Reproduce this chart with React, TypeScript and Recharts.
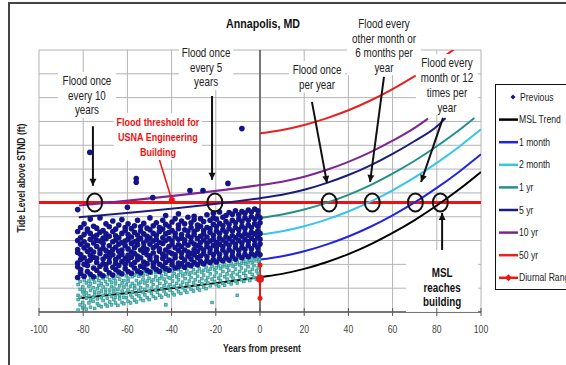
import React from 'react';
import { ComposedChart, Line, Scatter, XAxis, YAxis, CartesianGrid, ReferenceLine, ReferenceDot } from 'recharts';

type Pt = [number, number];

// ---------- data ----------
const xTicks = [-100, -80, -60, -40, -20, 0, 20, 40, 60, 80, 100];
const yTicks = [4, 5, 6, 7, 8, 9, 10, 11, 12, 13, 14, 15];
const floodThreshold = 8.6;

const mslTrend: Pt[] = [[-82, 4.58], [0, 5.46], [10, 5.6], [20, 5.81], [30, 6.09], [40, 6.43], [50, 6.84], [60, 7.32], [70, 7.86], [80, 8.47], [90, 9.14], [100, 9.88]];
const oneMonth: Pt[] = [[0, 6.2], [10, 6.34], [20, 6.55], [30, 6.83], [40, 7.17], [50, 7.58], [60, 8.06], [70, 8.6], [80, 9.21], [90, 9.88], [100, 10.62]];
const twoMonth: Pt[] = [[0, 7.25], [10, 7.39], [20, 7.6], [30, 7.88], [40, 8.22], [50, 8.63], [60, 9.11], [70, 9.65], [80, 10.26], [90, 10.93], [100, 11.67]];
const oneYr: Pt[] = [[0, 7.95], [10, 8.09], [20, 8.3], [30, 8.58], [40, 8.92], [50, 9.33], [60, 9.81], [70, 10.35], [80, 10.96], [90, 11.63], [97, 12.15]];
const fiveYr: Pt[] = [[-82, 7.98], [0, 8.78], [10, 8.92], [20, 9.13], [30, 9.41], [40, 9.75], [50, 10.16], [60, 10.64], [70, 11.18], [80, 11.79], [84, 12.14]];
const tenYr: Pt[] = [[-82, 8.47], [0, 9.33], [10, 9.47], [20, 9.68], [30, 9.96], [40, 10.3], [50, 10.71], [60, 11.19], [70, 11.73], [76, 12.12]];
const fiftyYr: Pt[] = [[0, 11.5], [10, 11.64], [20, 11.85], [30, 12.13], [40, 12.47], [50, 12.88], [60, 13.36], [70, 13.9], [80, 14.51], [90, 15.18]];
const diurnalRange: Pt[] = [[0, 4.58], [0, 5.4], [0, 5.97]];

// observed high tides (navy, "Previous"), grouped by time column
const previousCols: [number, number[]][] = [
  [-82.5, [5.45, 5.9, 6.05, 6.5, 6.62, 7.0, 7.38, 8.3]], [-81.2, [5.62, 5.78, 6.2, 6.41, 6.85, 7.12, 7.55]],
  [-79.6, [5.5, 6.0, 6.28, 6.7, 6.95, 7.25, 7.7]], [-78.1, [5.7, 5.95, 6.12, 6.55, 6.8, 7.4, 7.48]], [-77, [10.7]],
  [-76.8, [5.58, 6.18, 6.38, 6.62, 7.05, 7.3, 7.9]], [-75.3, [5.48, 5.85, 6.3, 6.52, 6.9, 7.15, 7.6]],
  [-73.9, [5.75, 6.08, 6.25, 6.75, 7.0, 7.22, 7.52]], [-72.4, [5.6, 5.92, 6.45, 6.6, 6.98, 7.35, 7.95]],
  [-71.0, [5.52, 6.02, 6.22, 6.68, 6.88, 7.1, 7.42]], [-69.7, [5.8, 5.98, 6.35, 6.58, 7.08, 7.28, 7.7]],
  [-68.2, [5.65, 6.1, 6.28, 6.5, 6.78, 7.18, 7.58]], [-66.6, [5.55, 5.88, 6.4, 6.62, 6.95, 7.38, 7.82]],
  [-65.3, [5.78, 6.05, 6.2, 6.72, 7.02, 7.2, 7.48]], [-63.9, [5.68, 5.95, 6.32, 6.55, 6.85, 7.12, 7.65]],
  [-62.5, [5.6, 6.12, 6.42, 6.6, 6.92, 7.3, 7.88]], [-61.0, [5.82, 6.0, 6.25, 6.78, 6.98, 7.42, 7.55]], [-60, [8.4]],
  [-59.7, [5.7, 6.15, 6.38, 6.65, 7.05, 7.25, 7.7]], [-58.2, [5.62, 5.98, 6.3, 6.52, 6.88, 7.15, 7.5]],
  [-56.8, [5.85, 6.08, 6.45, 6.7, 6.95, 7.35, 7.62]], [-56, [9.45, 9.6]],
  [-55.4, [5.72, 6.2, 6.35, 6.82, 7.0, 7.22, 7.85]], [-54.0, [5.65, 5.92, 6.28, 6.6, 7.08, 7.4, 7.58]],
  [-52.6, [5.88, 6.1, 6.5, 6.72, 6.9, 7.28, 7.72]], [-51.1, [5.75, 6.02, 6.4, 6.62, 7.02, 7.18, 7.52]],
  [-49.8, [5.68, 6.22, 6.35, 6.85, 7.1, 7.45, 7.95]], [-48.5, [8.8]],
  [-48.3, [5.9, 6.05, 6.48, 6.7, 6.98, 7.3, 7.62]], [-46.9, [5.78, 6.15, 6.3, 6.78, 7.05, 7.22, 7.75]],
  [-45.5, [5.7, 6.0, 6.55, 6.65, 6.92, 7.38, 7.55]], [-44.0, [5.92, 6.25, 6.42, 6.88, 7.12, 7.48, 7.85]],
  [-42.7, [5.82, 6.08, 6.35, 6.6, 7.0, 7.28, 7.68, 8.05]], [-41.2, [5.75, 6.18, 6.52, 6.75, 7.08, 7.35, 7.6]],
  [-39.8, [5.98, 6.12, 6.45, 6.85, 6.98, 7.42, 7.78]], [-38.4, [5.85, 6.28, 6.4, 6.7, 7.15, 7.3, 7.92]],
  [-36.9, [5.9, 6.05, 6.58, 6.82, 7.05, 7.5, 7.65, 8.12]], [-35.5, [6.02, 6.3, 6.48, 6.75, 7.1, 7.25, 7.82]],
  [-34.1, [5.88, 6.18, 6.6, 6.9, 7.02, 7.45, 7.7]], [-32.6, [6.0, 6.35, 6.52, 6.8, 7.2, 7.4, 7.98]], [-31.7, [9.1]],
  [-31.2, [5.95, 6.22, 6.45, 6.95, 7.12, 7.55, 7.75]], [-29.8, [6.08, 6.4, 6.62, 6.85, 7.25, 7.38, 7.88, 8.02]],
  [-28.3, [5.98, 6.28, 6.55, 6.78, 7.08, 7.48, 7.65]], [-26.9, [6.12, 6.35, 6.7, 6.92, 7.18, 7.6, 7.92]], [-25.8, [9.1]],
  [-25.5, [6.02, 6.45, 6.6, 7.02, 7.28, 7.42, 7.8]], [-24.0, [6.15, 6.32, 6.75, 6.88, 7.15, 7.55, 8.08]],
  [-22.6, [6.08, 6.5, 6.65, 6.98, 7.35, 7.5, 7.85]], [-21.1, [6.2, 6.4, 6.8, 7.05, 7.22, 7.68, 7.95, 8.15]],
  [-19.7, [6.1, 6.55, 6.7, 6.92, 7.4, 7.58, 7.9]], [-18.3, [6.25, 6.42, 6.85, 7.1, 7.3, 7.72, 8.2]],
  [-16.8, [6.15, 6.6, 6.75, 7.02, 7.45, 7.62, 7.98]], [-15.4, [6.3, 6.48, 6.9, 7.15, 7.35, 7.8, 8.05]], [-14.5, [9.4]],
  [-14.0, [6.18, 6.62, 6.8, 7.08, 7.5, 7.68, 8.18]], [-12.5, [6.35, 6.52, 6.95, 7.2, 7.4, 7.85, 8.1]],
  [-11.1, [6.22, 6.7, 6.85, 7.12, 7.55, 7.75, 8.25]], [-9.6, [6.4, 6.58, 7.0, 7.25, 7.45, 7.9, 8.08]],
  [-8.2, [6.28, 6.72, 6.9, 7.18, 7.6, 7.8, 8.22, 11.7]], [-6.8, [6.42, 6.62, 7.05, 7.3, 7.5, 7.95, 8.15]],
  [-5.3, [6.32, 6.78, 6.95, 7.22, 7.65, 7.85, 8.28]], [-3.9, [6.45, 6.65, 7.1, 7.35, 7.55, 8.0, 8.2]],
  [-2.4, [6.38, 6.82, 7.0, 7.28, 7.7, 7.9, 8.32]], [-1.0, [6.5, 6.7, 7.15, 7.4, 7.6, 8.05, 8.25]],
  [0, [6.4, 6.85, 7.05, 7.3, 7.75, 7.95]],
];

// observed low tides (teal), grouped by time column
const lowCols: [number, number[]][] = [
  [-82.3, [4.08, 4.52, 4.7, 5.15, 5.42]], [-81.4, [4.3, 4.62, 4.95, 5.28]], [-80.2, [4.18, 4.4, 4.85, 5.05, 5.5]],
  [-79.5, [4.25, 4.75, 4.92, 5.35]], [-78.6, [4.12, 4.58, 4.8, 5.22]], [-77.4, [4.38, 4.68, 5.08, 5.3]],
  [-76.7, [4.2, 4.5, 4.9, 5.18, 5.45]], [-75.5, [4.45, 4.62, 5.02, 5.38]], [-74.8, [4.15, 4.72, 4.85, 5.25]],
  [-73.6, [4.35, 4.55, 4.98, 5.45]], [-72.9, [4.28, 4.8, 5.12, 5.32]], [-71.8, [4.22, 4.6, 4.88, 5.2, 5.5]],
  [-71.0, [4.48, 4.7, 5.05, 5.4]], [-69.9, [4.32, 4.82, 4.95, 5.28]], [-69.1, [4.25, 4.58, 5.15, 5.48]],
  [-68.0, [4.42, 4.75, 4.92, 5.35]], [-67.2, [4.3, 4.65, 5.08, 5.25, 5.55]], [-66.1, [4.52, 4.85, 5.0, 5.42]],
  [-65.4, [4.38, 4.62, 5.18, 5.3]], [-64.3, [4.28, 4.78, 4.95, 5.5]], [-63.5, [4.55, 4.7, 5.1, 5.38]],
  [-62.4, [4.4, 4.88, 5.22, 5.58]], [-61.6, [4.35, 4.62, 5.05, 5.32]], [-60.5, [4.6, 4.8, 5.15, 5.52]],
  [-59.7, [4.45, 4.92, 5.28, 5.42]], [-58.6, [4.38, 4.72, 5.08, 5.6]], [-57.8, [4.62, 4.85, 5.2, 5.48]],
  [-56.7, [4.5, 4.98, 5.12, 5.55]], [-55.9, [4.42, 4.75, 5.32, 5.65]], [-54.8, [4.68, 4.9, 5.18, 5.5]],
  [-54.0, [4.55, 5.02, 5.25, 5.62]], [-52.9, [4.48, 4.82, 5.38, 5.55]], [-52.1, [4.72, 4.95, 5.22, 5.7]],
  [-51.0, [4.6, 5.1, 5.3, 5.58]], [-50.2, [4.52, 4.88, 5.42, 5.72]], [-49.1, [4.78, 5.0, 5.28, 5.62]],
  [-48.3, [4.65, 5.15, 5.35, 5.78]], [-47.2, [4.58, 4.92, 5.48, 5.65]], [-46.4, [4.82, 5.05, 5.32, 5.75]],
  [-45.3, [4.7, 5.2, 5.4, 5.68]], [-44.5, [4.62, 4.98, 5.52, 5.82]], [-43.4, [4.88, 5.1, 5.38, 5.72]],
  [-42.6, [4.3, 4.75, 5.25, 5.58]], [-41.5, [4.68, 5.05, 5.45, 5.85]], [-40.7, [4.92, 5.15, 5.42, 5.78]],
  [-39.6, [4.8, 5.3, 5.5, 5.72]], [-38.8, [4.72, 5.08, 5.62, 5.9]], [-37.7, [4.98, 5.2, 5.48, 5.82]],
  [-36.9, [4.85, 5.35, 5.55, 5.78]], [-35.8, [4.78, 5.12, 5.68, 5.95]], [-35.0, [5.02, 5.25, 5.52, 5.88]],
  [-33.9, [4.9, 5.4, 5.6, 5.85]], [-33.1, [4.82, 5.18, 5.72, 6.0]], [-32.0, [5.08, 5.3, 5.58, 5.92]],
  [-31.2, [4.95, 5.45, 5.65, 5.9]], [-30.1, [4.88, 5.22, 5.78, 6.02]], [-29.3, [5.12, 5.35, 5.62, 5.98]],
  [-28.2, [5.0, 5.5, 5.7, 5.95]], [-27.4, [4.92, 5.28, 5.82, 6.05]], [-26.3, [5.18, 5.4, 5.68, 6.02]],
  [-25.5, [5.05, 5.55, 5.75, 6.0]], [-24.4, [4.98, 5.32, 5.88, 6.1]], [-23.6, [5.22, 5.45, 5.72, 6.08]],
  [-22.5, [5.1, 5.6, 5.8, 6.05]], [-21.7, [4.4, 5.38, 5.92, 6.12]], [-20.6, [5.28, 5.5, 5.78, 6.1]],
  [-19.8, [5.15, 5.65, 5.85, 6.08]], [-18.7, [5.08, 5.42, 5.95, 6.18]], [-17.9, [5.32, 5.55, 5.82, 6.15]],
  [-16.8, [5.2, 5.7, 5.9, 6.12]], [-16.0, [5.12, 5.48, 6.0, 6.22]], [-14.9, [5.38, 5.6, 5.88, 6.2]],
  [-14.1, [5.25, 5.75, 5.95, 6.18]], [-13.0, [5.18, 5.52, 6.05, 6.25]], [-12.2, [5.42, 5.65, 5.92, 6.22]],
  [-11.1, [5.3, 5.8, 6.0, 6.2]], [-10.3, [4.7, 5.22, 5.58, 6.1]], [-9.2, [5.48, 5.7, 5.98, 6.28]],
  [-8.4, [5.35, 5.85, 6.05, 6.25]], [-7.3, [5.28, 5.62, 6.12, 6.3]], [-6.5, [5.52, 5.75, 6.02, 6.28]],
  [-5.4, [5.4, 5.9, 6.1, 6.32]], [-4.6, [5.32, 5.68, 6.18, 6.3]], [-3.5, [5.58, 5.8, 6.08, 6.32]],
  [-2.7, [5.45, 5.95, 6.15, 6.3]], [-1.6, [5.38, 5.72, 6.22, 6.35]], [-0.8, [5.62, 5.85, 6.12, 6.3]],
  [-0.2, [5.5, 5.98, 6.2]],
];

// flood-frequency crossings on the threshold line
const crossings = [-74.8, -20.4, 31.3, 50.8, 70.3, 81.6];

// arrows: from, to, head angle (screen degrees)
const arrows: { from: Pt; to: Pt; angle: number }[] = [
  { from: [-75.6, 11.8], to: [-75.6, 9.3], angle: 90 },
  { from: [-21.7, 13.07], to: [-21.7, 9.55], angle: 90 },
  { from: [23.5, 12.82], to: [30.3, 9.42], angle: 80 },
  { from: [56.1, 13.87], to: [49.8, 9.46], angle: 97 },
  { from: [82.8, 12.15], to: [72.9, 9.46], angle: 110 },
  { from: [82.4, 6.27], to: [82.4, 8.16], angle: -90 },
];

type Note = { lines: string[]; at: Pt; w: number; lh: number; size: number; bold?: boolean; color: string; padTop?: number; padBottom?: number };
const notes: Note[] = [
  { lines: ['Flood once', 'every 10', 'years'], at: [-78.3, 13.7], w: 58, lh: 14.5, size: 12, color: '#222' },
  { lines: ['Flood once', 'every 5', 'years'], at: [-24.4, 14.87], w: 54, lh: 14.5, size: 12, color: '#222' },
  { lines: ['Flood once', 'per year'], at: [25.8, 14.16], w: 56, lh: 14.5, size: 12, color: '#222' },
  { lines: ['Flood every', 'other month or', '6 months per', 'year'], at: [56.1, 16.09], w: 74, lh: 14.4, size: 12, color: '#222' },
  { lines: ['Flood every', 'month or 12', 'times per', 'year'], at: [84.6, 14.45], w: 62, lh: 14.7, size: 12, color: '#222' },
  { lines: ['MSL', 'reaches', 'building'], at: [82.4, 5.64], w: 72, lh: 14.5, size: 12, bold: true, color: '#111', padTop: 23, padBottom: 10 },
  { lines: ['Flood threshold for', 'USNA Engineering', 'Building'], at: [-46.2, 11.98], w: 88, lh: 15, size: 11, bold: true, color: '#ee1111' },
];
const thresholdPointer: Pt[] = [[-46.2, 10.6], [-39.9, 8.7]];

// ---------- styling ----------
const NAVY = '#14148a';
const TEAL = '#2c9a96';
const series = [
  { name: 'MSL Trend', color: '#000000', data: mslTrend },
  { name: '1 month', color: '#2323e8', data: oneMonth },
  { name: '2 month', color: '#35c6ee', data: twoMonth },
  { name: '1 yr', color: '#24908a', data: oneYr },
  { name: '5 yr', color: '#1c1c7e', data: fiveYr },
  { name: '10 yr', color: '#7d2592', data: tenYr },
  { name: '50 yr', color: '#ea2020', data: fiftyYr },
];

const W = 566;
const H = 365;
const M = { top: 50, left: 39, right: 85, bottom: 23 };
const XAXIS_H = 30;
const AXIS_X = M.left + (W - M.left - M.right) / 2;
const PLOT_BOTTOM = H - M.bottom - XAXIS_H;
const FONT = "'Liberation Sans','Arial',sans-serif";
const NARROW = 0.82;

const toObj = (pts: Pt[]) => pts.map(([x, y]) => ({ x, y }));
const previous = previousCols.flatMap(([x, ys]) => ys.map((y) => ({ x, y })));
const lows = lowCols.flatMap(([x, ys]) => ys.map((y) => ({ x, y })));

// condensed text (Arial-Narrow look)
const NText = ({ x, y, anchor = 'start', size, weight = 'normal', fill, children, rotate = 0 }: any) => (
  <g transform={`translate(${x},${y}) rotate(${rotate}) scale(${NARROW},1)`}>
    <text x={0} y={0} textAnchor={anchor} fontFamily={FONT} fontSize={size} fontWeight={weight} fill={fill}>{children}</text>
  </g>
);

const XTick = (p: any) => (
  <g>
    <line x1={p.x} x2={p.x} y1={PLOT_BOTTOM - 4} y2={PLOT_BOTTOM + 4} stroke="#555" />
    <NText x={p.x} y={PLOT_BOTTOM + 21} anchor="middle" size={10.5} fill="#444">{p.payload.value}</NText>
  </g>
);
const YTick = (p: any) => (
  <g>
    <line x1={AXIS_X - 5} x2={AXIS_X + 5} y1={p.y} y2={p.y} stroke="#555" />
    <NText x={AXIS_X - 2} y={p.y + 3.5} anchor="end" size={10.5} fill="#555">{p.payload.value}</NText>
  </g>
);

const NoteShape = ({ cx, cy, n }: { cx: number; cy: number; n: Note }) => {
  const top = cy - (n.padTop ?? 9);
  const bottom = cy + (n.lines.length - 1) * n.lh + (n.padBottom ?? 8);
  return (
    <g>
      <rect x={cx - n.w / 2} y={top} width={n.w} height={bottom - top} fill="#fff" />
      {n.lines.map((l, i) => (
        <NText key={i} x={cx} y={cy + i * n.lh + n.size * 0.36} anchor="middle" size={n.size}
          weight={n.bold ? 'bold' : 'normal'} fill={n.color}>{l}</NText>
      ))}
    </g>
  );
};

const legendItems = [
  { name: 'Previous', color: NAVY, kind: 'dot' },
  ...series.map((s) => ({ name: s.name, color: s.color, kind: 'line' })),
  { name: 'Diurnal Range', color: '#e81818', kind: 'lineDot' },
];

export default function App() {
  return (
    <div style={{ position: 'absolute', left: 0, top: 0, width: W, height: H, overflow: 'hidden', background: '#fff' }}>
      <div style={{ position: 'absolute', left: 8, top: 2, width: 700, height: 500, border: '2px solid #444', boxSizing: 'border-box' }} />
      <div style={{ position: 'absolute', left: 0, top: 0 }}>
        <ComposedChart width={W} height={H} margin={M}>
          <CartesianGrid stroke="#b4b4b4" strokeWidth={1} />
          <XAxis type="number" dataKey="x" domain={[-100, 100]} ticks={xTicks} allowDataOverflow
            axisLine={{ stroke: '#555', strokeWidth: 1.5 }} tickLine={false} tick={XTick} height={XAXIS_H} interval={0} />
          <YAxis type="number" dataKey="y" domain={[4, 15]} ticks={yTicks} allowDataOverflow width={0}
            axisLine={false} tickLine={false} tick={YTick} interval={0} />
          <ReferenceLine x={0} stroke="#555" strokeWidth={1.5} />
          <Scatter data={lows} fill={TEAL} isAnimationActive={false}
            shape={(p: any) => <rect x={p.cx - 1.3} y={p.cy - 1.3} width={2.6} height={2.6} fill="#79c2be" stroke={TEAL} strokeWidth={0.8} />} />
          <Scatter data={previous} fill={NAVY} isAnimationActive={false}
            shape={(p: any) => <circle cx={p.cx} cy={p.cy} r={2.8} fill={NAVY} />} />
          <ReferenceLine y={floodThreshold} stroke="#f01010" strokeWidth={3} />
          {series.map((s) => (
            <Line key={s.name} data={toObj(s.data)} dataKey="y" type="monotone" stroke={s.color} strokeWidth={2}
              dot={false} isAnimationActive={false} name={s.name} />
          ))}
          <Line data={toObj(diurnalRange)} dataKey="y" stroke="#e81818" strokeWidth={2} isAnimationActive={false}
            dot={(p: any) => <circle key={p.index} cx={p.cx} cy={p.cy} r={p.index === 1 ? 4 : 2.5} fill="#e81818" />} name="Diurnal Range" />
          {notes.map((n, i) => (
            <ReferenceDot key={'n' + i} x={n.at[0]} y={n.at[1]} r={1} ifOverflow="visible"
              shape={(p: any) => <NoteShape cx={p.cx} cy={p.cy} n={n} />} />
          ))}
          <ReferenceLine segment={[{ x: thresholdPointer[0][0], y: thresholdPointer[0][1] }, { x: thresholdPointer[1][0], y: thresholdPointer[1][1] }]}
            stroke="#ee1111" strokeWidth={1.5} ifOverflow="visible" />
          <ReferenceDot x={thresholdPointer[1][0]} y={thresholdPointer[1][1]} r={3} fill="#ee1111" stroke="none" />
          {arrows.map((a, i) => (
            <ReferenceLine key={'a' + i} segment={[{ x: a.from[0], y: a.from[1] }, { x: a.to[0], y: a.to[1] }]}
              stroke="#111" strokeWidth={2} ifOverflow="visible" />
          ))}
          {arrows.map((a, i) => (
            <ReferenceDot key={'h' + i} x={a.to[0]} y={a.to[1]} r={1} ifOverflow="visible"
              shape={(p: any) => <polygon points="0,0 -7,-3.5 -7,3.5" transform={`translate(${p.cx},${p.cy}) rotate(${a.angle})`} fill="#111" />} />
          ))}
          {crossings.map((c, i) => (
            <ReferenceDot key={'c' + i} x={c} y={floodThreshold} r={8} ifOverflow="visible"
              shape={(p: any) => <ellipse cx={p.cx} cy={p.cy} rx={7.5} ry={9} fill="none" stroke="#111" strokeWidth={2} />} />
          ))}
        </ComposedChart>
      </div>
      <svg width={W} height={H} style={{ position: 'absolute', left: 0, top: 0, pointerEvents: 'none' }}>
        <NText x={263} y={28} anchor="middle" size={13} weight="bold" fill="#111">Annapolis, MD</NText>
        <NText x={262} y={352} anchor="middle" size={10.5} weight="bold" fill="#222">Years from present</NText>
        <NText x={25} y={178} rotate={-90} anchor="middle" size={10.5} weight="bold" fill="#222">Tide Level above STND (ft)</NText>
      </svg>
      <div style={{ position: 'absolute', left: 495, top: 84, width: 100, height: 206, border: '1px solid #111', background: '#fff', boxSizing: 'border-box' }}>
        <svg width={100} height={206}>
          {legendItems.map((it, i) => {
            const y = 12 + i * 22.6;
            return (
              <g key={it.name}>
                {it.kind === 'dot' ? (
                  <polygon points={`17,${y - 2.5} 19.5,${y} 17,${y + 2.5} 14.5,${y}`} fill={it.color} />
                ) : (
                  <line x1={3} x2={22} y1={y} y2={y} stroke={it.color} strokeWidth={2.5} />
                )}
                {it.kind === 'lineDot' && <polygon points={`12.5,${y - 3.5} 16,${y} 12.5,${y + 3.5} 9,${y}`} fill={it.color} />}
                <NText x={it.kind === 'dot' ? 24 : 23} y={y + 3.5} size={10.5} fill="#222">{it.name}</NText>
              </g>
            );
          })}
        </svg>
      </div>
    </div>
  );
}
